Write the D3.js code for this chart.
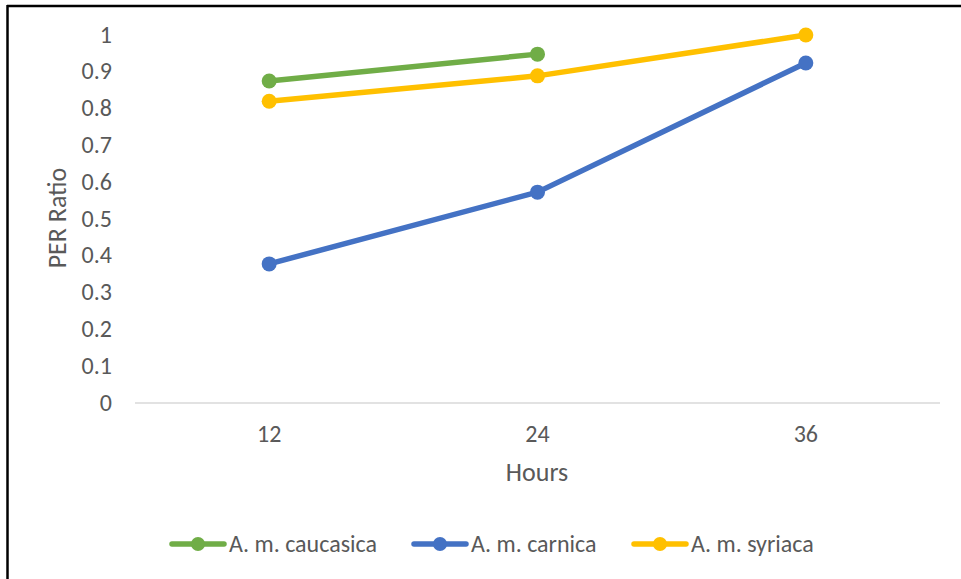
<!DOCTYPE html>
<html><head><meta charset="utf-8">
<script src="https://cdn.jsdelivr.net/npm/d3@7"></script>
<style>body{margin:0;background:#fff}svg{display:block}text{font-family:Calibri,Carlito,"Open Sans",sans-serif}</style>
</head><body>
<svg id="c" width="961" height="579"></svg>
<script>
const categories = ["12", "24", "36"];
const seriesNames = ["A. m. caucasica", "A. m. carnica", "A. m. syriaca"];
const caucasica = [0.875, 0.948, null];
const carnica = [0.378, 0.573, 0.924];
const syriaca = [0.82, 0.889, 1.0];
const yTicks = [0, 0.1, 0.2, 0.3, 0.4, 0.5, 0.6, 0.7, 0.8, 0.9, 1];
const colors = ["#70ad47", "#4472c4", "#ffc000"];
const series = [caucasica, carnica, syriaca];

const svg = d3.select("#c");
svg.append("rect").attr("width",961).attr("height",579).attr("fill","#fff");
// outer border (top & left visible)
svg.append("line").attr("x1",7).attr("x2",961).attr("y1",6).attr("y2",6).attr("stroke","#000").attr("stroke-width",2.5);
svg.append("line").attr("x1",7.5).attr("x2",7.5).attr("y1",5).attr("y2",579).attr("stroke","#000").attr("stroke-width",2.5);

const x = d3.scaleBand().domain(categories).range([135, 940]);
const y = d3.scaleLinear().domain([0, 1]).range([403, 35]);

// x axis line
svg.append("line").attr("x1",135).attr("x2",940).attr("y1",y(0)).attr("y2",y(0)).attr("stroke","#d9d9d9").attr("stroke-width",1.5);

// y tick labels
svg.append("g").selectAll("text").data(yTicks).join("text")
  .attr("x",112).attr("y",d=>y(d)).attr("dy","0.32em").attr("text-anchor","end")
  .attr("font-size",24).attr("fill","#595959").text(d=>d3.format("")(d));
// x tick labels
svg.append("g").selectAll("text").data(categories).join("text")
  .attr("x",d=>x(d)+x.bandwidth()/2).attr("y",442).attr("text-anchor","middle")
  .attr("font-size",24).attr("fill","#595959").text(d=>d);

// axis titles
svg.append("text").attr("transform","translate(66,218) rotate(-90)").attr("text-anchor","middle")
  .attr("font-size",26).attr("fill","#595959").text("PER Ratio");
svg.append("text").attr("x",537).attr("y",481).attr("text-anchor","middle")
  .attr("font-size",26).attr("fill","#595959").text("Hours");

const line = d3.line().defined(d=>d.v!=null).x(d=>x(d.c)+x.bandwidth()/2).y(d=>y(d.v));
series.forEach((s,i)=>{
  const pts = s.map((v,j)=>({c:categories[j], v}));
  svg.append("path").attr("d",line(pts)).attr("fill","none").attr("stroke",colors[i]).attr("stroke-width",5.5).attr("stroke-linejoin","round").attr("stroke-linecap","round");
  svg.append("g").selectAll("circle").data(pts.filter(d=>d.v!=null)).join("circle")
    .attr("cx",d=>x(d.c)+x.bandwidth()/2).attr("cy",d=>y(d.v)).attr("r",7.5).attr("fill",colors[i]);
});

// legend
const legX = [170, 412, 632];
const lg = svg.append("g");
seriesNames.forEach((n,i)=>{
  const g = lg.append("g").attr("transform",`translate(${legX[i]},544)`);
  g.append("line").attr("x1",2).attr("x2",54).attr("stroke",colors[i]).attr("stroke-width",5.5).attr("stroke-linecap","round");
  g.append("circle").attr("cx",28).attr("r",7).attr("fill",colors[i]);
  g.append("text").attr("x",59).attr("dy","0.32em").attr("font-size",24).attr("fill","#595959").text(n);
});
</script>
</body></html>
